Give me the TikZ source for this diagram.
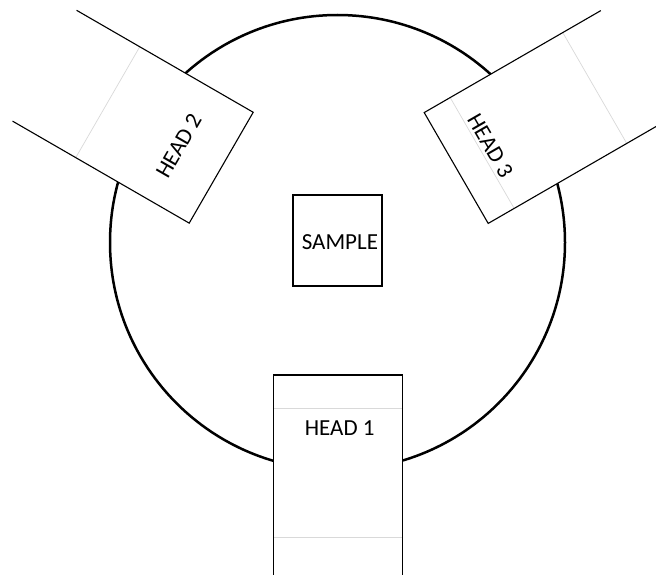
\documentclass[tikz,border=0pt]{standalone}
\usepackage{fontspec}
\setmainfont{Carlito}
\begin{document}
\begin{tikzpicture}[x=1pt,y=-1pt,
  chamber/.style={line width=2.5pt},
  headfill/.style={fill=white},
  headedge/.style={line width=1.1pt, line join=miter},
  divider/.style={draw=black!15, line width=0.7pt},
  samplebox/.style={draw, line width=2pt},
  label/.style={font=\fontsize{23}{27}\selectfont, inner sep=0pt}]

\useasboundingbox (0,0) rectangle (656,575);
\clip (0,0) rectangle (656,575);

% sample chamber
\draw[chamber] (337.5,242.5) circle[radius=227.5];

% head 1 (bottom)
\begin{scope}[shift={(337.8,375)}]
  \fill[headfill] (-64.5,0) rectangle (64.5,210);
  \draw[divider] (-64.5,33) -- (64.5,33);
  \draw[divider] (-64.5,162) -- (64.5,162);
  \draw[headedge] (-64.5,210) -- (-64.5,0) -- (64.5,0) -- (64.5,210);
\end{scope}

% head 2 (upper left)
\begin{scope}[shift={(221.2,167.7)}, rotate=240]
  \fill[headfill] (-64,0) rectangle (64,204);
  \draw[divider] (-64,131) -- (64,131);
  \draw[headedge] (-64,204) -- (-64,0) -- (64,0) -- (64,204);
\end{scope}

% head 3 (upper right)
\begin{scope}[shift={(456.2,168)}, rotate=120]
  \fill[headfill] (-64,0) rectangle (64,204);
  \draw[divider] (-64,30) -- (64,30);
  \draw[divider] (-64,160) -- (64,160);
  \draw[headedge] (-64,204) -- (-64,0) -- (64,0) -- (64,204);
\end{scope}

% sample holder
\node[samplebox, minimum width=89pt, minimum height=91pt, inner sep=0pt] (sample) at (337.2,240.5) {};
\node[label] (samplelabel) at (339.9,242.5) {SAMPLE};

% head labels
\node[label] (head1) at (339.7,428) {HEAD 1};
\node[label, rotate=60] (head2) at (178.7,145.8) {HEAD 2};
\node[label, rotate=-60] (head3) at (490.3,145.8) {HEAD 3};
\end{tikzpicture}
\end{document}
